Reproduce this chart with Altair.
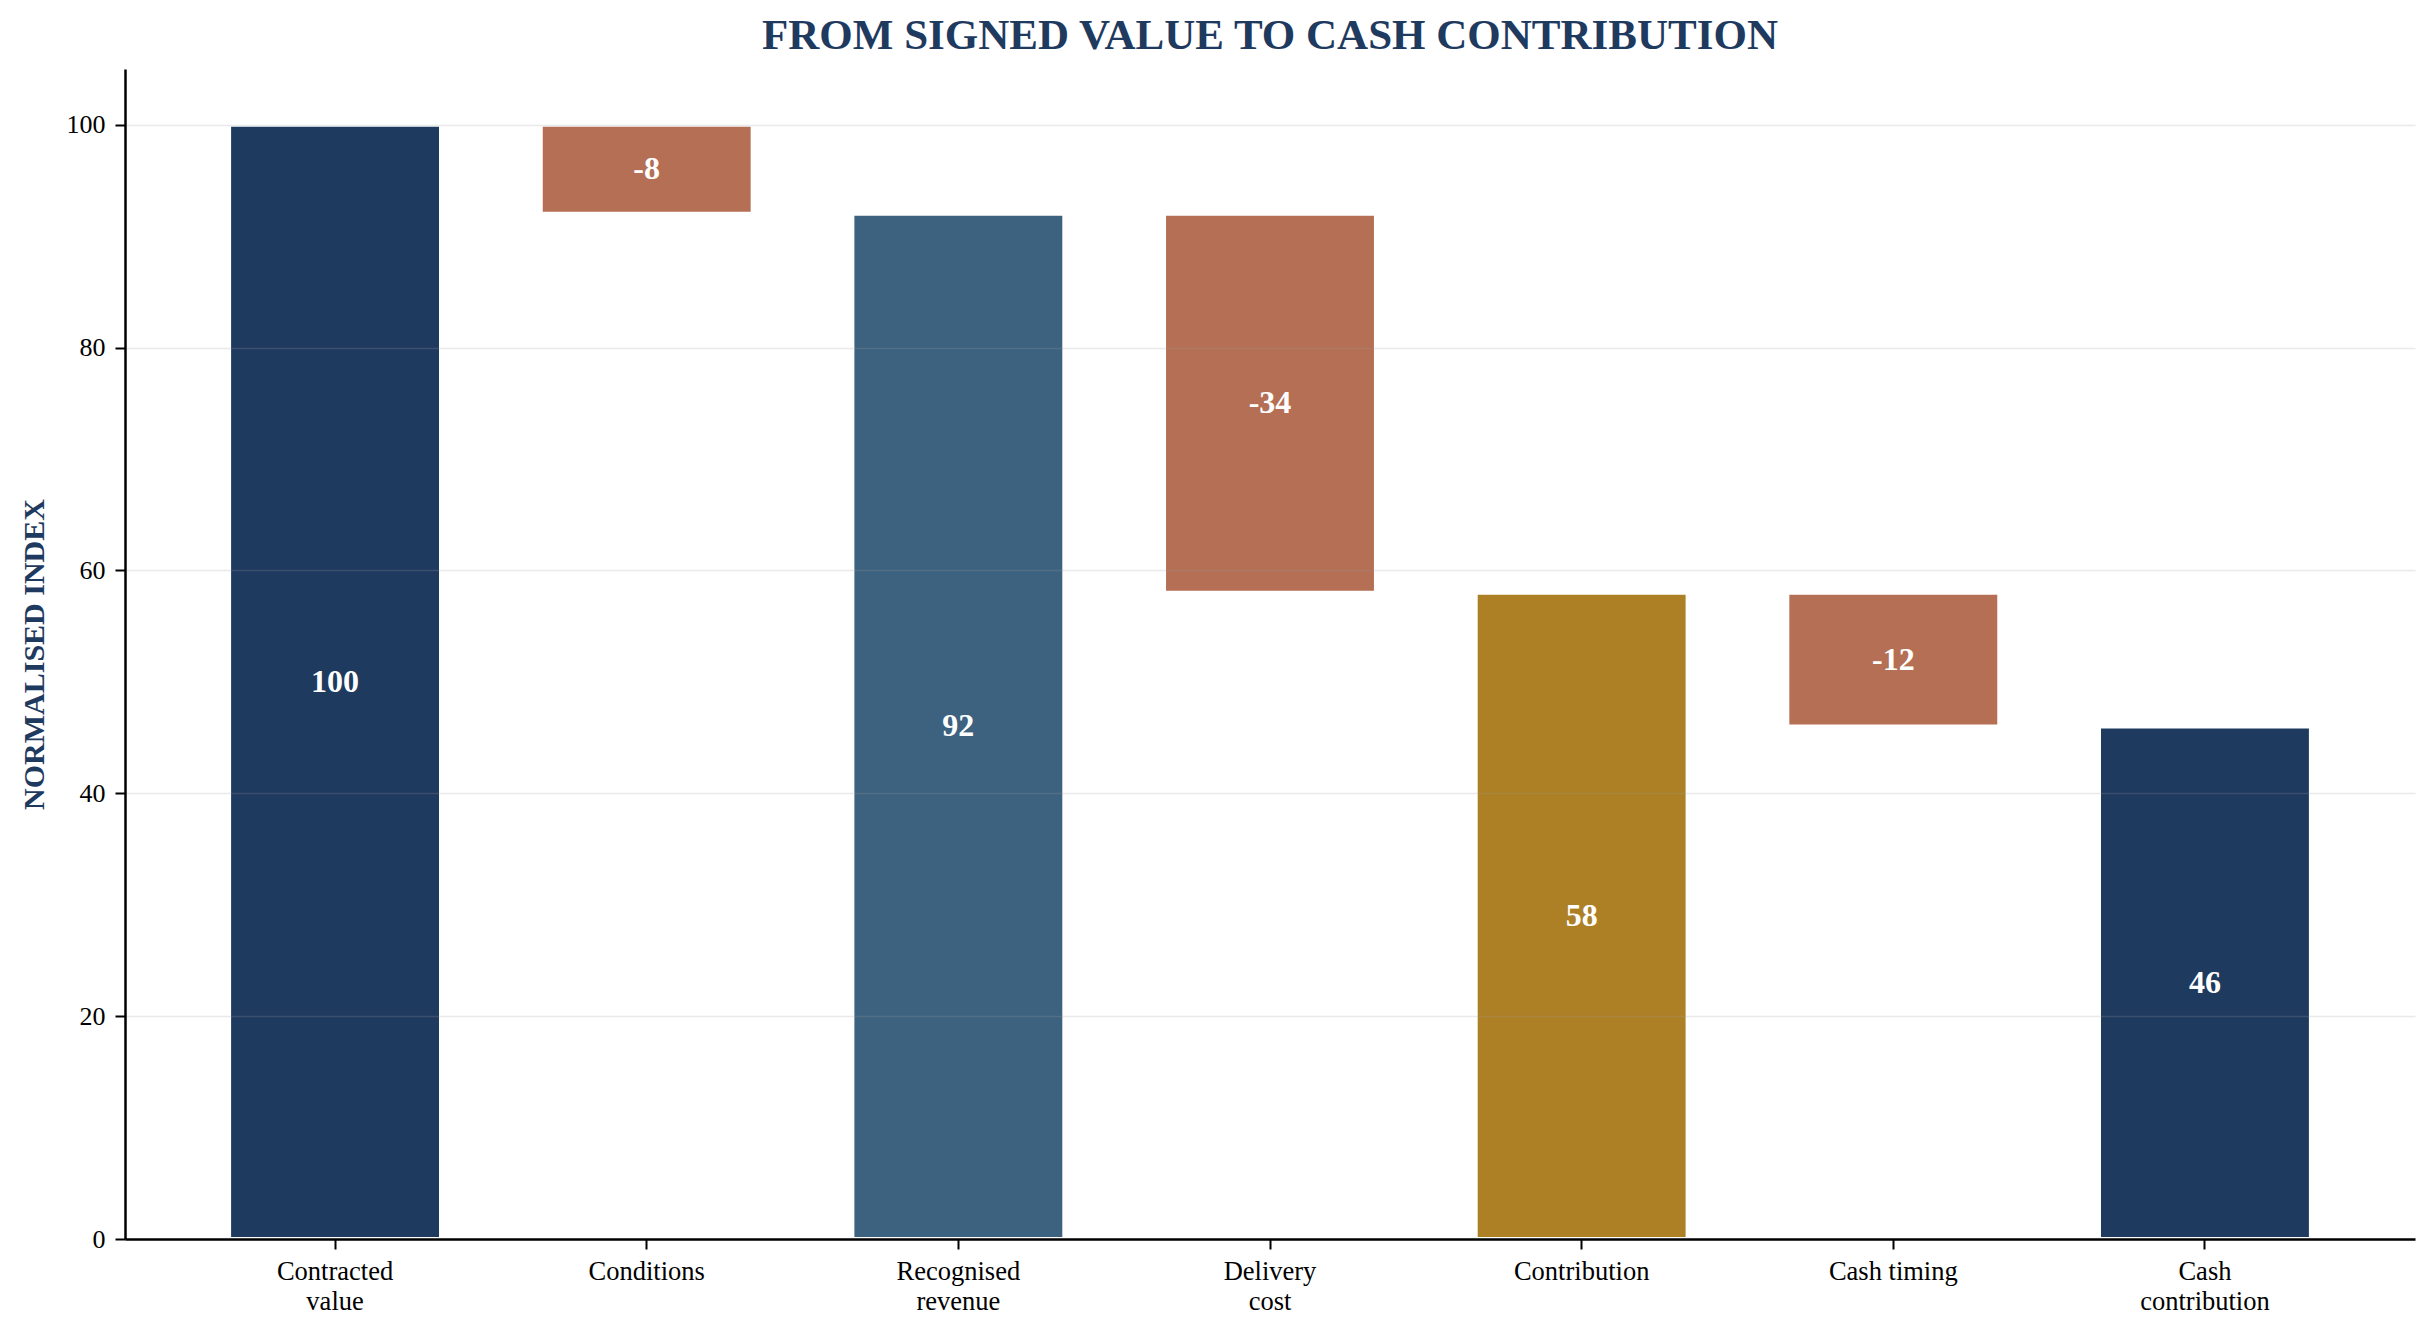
import altair as alt
import pandas as pd

categories = ["Contracted\nvalue", "Conditions", "Recognised\nrevenue", "Delivery\ncost",
              "Contribution", "Cash timing", "Cash\ncontribution"]
values = [100, -8, 92, -34, 58, -12, 46]
kinds = ["total", "delta", "total", "delta", "total", "delta", "total"]
bar_colors = ["#1F3A5F", "#B46F55", "#3D627F", "#B46F55", "#AD8026", "#B46F55", "#1F3A5F"]
y_ticks = [0, 20, 40, 60, 80, 100]

rows = []
running = 0
for cat, v, k in zip(categories, values, kinds):
    if k == "total":
        start, end = 0, v
        running = v
    else:
        start, end = running, running + v
        running = running + v
    rows.append({"category": cat, "start": start, "end": end,
                 "mid": (start + end) / 2, "label": str(v)})
df = pd.DataFrame(rows)

FONT = "Liberation Serif"
NAVY = "#1F3A5F"

x_enc = alt.X("category:N", sort=categories,
              scale=alt.Scale(paddingInner=0.32, paddingOuter=0.334),
              axis=alt.Axis(title=None, labelAngle=0, labelExpr="split(datum.label, '\\n')",
                            labelBaseline="top", labelLineHeight=30, labelFontSize=26.5,
                            labelPadding=9, grid=False, zindex=1))

base = alt.Chart(df)

bars = base.mark_bar(stroke="white", strokeWidth=4).encode(
    x=x_enc,
    y=alt.Y("start:Q", scale=alt.Scale(domain=[0, 105], nice=False),
            axis=alt.Axis(title="NORMALISED INDEX", values=y_ticks, grid=True, zindex=1,
                          gridColor="#a0a0a0", gridOpacity=0.22, gridWidth=1.5,
                          titleFontSize=30, titleFontWeight="bold", titleColor=NAVY,
                          titleX=-82, titleY=585, titleBaseline="alphabetic", titleAngle=-90,
                          labelFontSize=26, labelPadding=10)),
    y2="end:Q",
    color=alt.Color("category:N", scale=alt.Scale(domain=categories, range=bar_colors), legend=None),
)

labels = base.mark_text(color="white", fontWeight="bold", fontSize=32, baseline="middle",
                        font=FONT).encode(
    x=alt.X("category:N", sort=categories),
    y="mid:Q",
    text="label:N",
)

chart = alt.layer(bars, labels).properties(
    width=2290, height=1170,
    autosize=alt.AutoSizeParams(type="none"),
    padding={"left": 117, "top": 61, "right": 10, "bottom": 90},
    title=alt.TitleParams("FROM SIGNED VALUE TO CASH CONTRIBUTION", font=FONT, fontSize=43,
                          fontWeight="bold", color=NAVY, anchor="middle", offset=11),
).configure_axis(
    labelFont=FONT, titleFont=FONT, labelColor="black",
    domainColor="black", domainWidth=2.5, tickColor="black", tickWidth=2, tickSize=10,
).configure_view(stroke=None).configure_text(font=FONT)

chart.save("out.html", embed_options={"renderer": "svg", "actions": False})
